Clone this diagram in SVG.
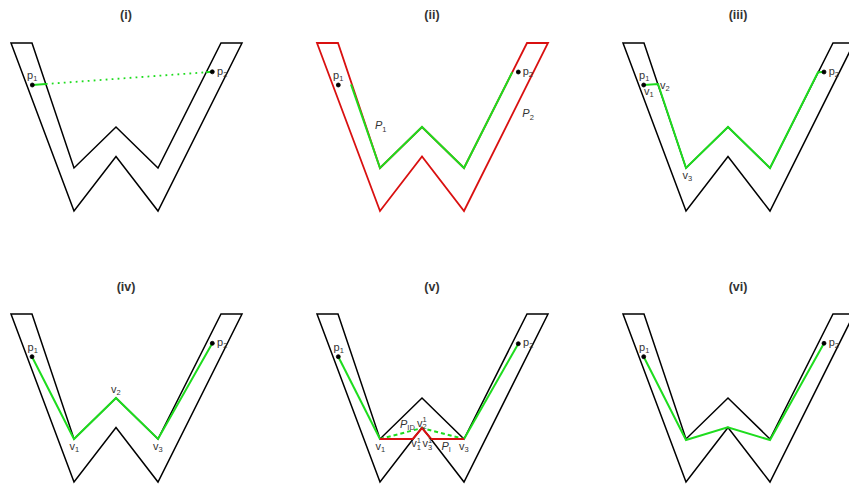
<svg xmlns="http://www.w3.org/2000/svg" width="849" height="486" viewBox="0 0 849 486">
<style>
.title{font-family:"Liberation Sans",Arial,sans-serif;font-size:12.5px;font-weight:bold;fill:#333;text-anchor:middle}
.lbl{font-family:"Liberation Sans",Arial,sans-serif;font-size:11px;fill:#333}
.sub{font-size:7.5px}
.it{font-style:italic}
.wall{fill:none;stroke:#000;stroke-width:1.5;stroke-linejoin:miter}
.wallred{fill:none;stroke:#d91010;stroke-width:1.8}
.g{fill:none;stroke:#1edc1e;stroke-width:2;stroke-linejoin:miter}
.gdot{fill:none;stroke:#1edc1e;stroke-width:1.8;stroke-dasharray:1.8,4.2}
.gdash{fill:none;stroke:#1edc1e;stroke-width:2;stroke-dasharray:4,3}
.r{fill:none;stroke:#d91010;stroke-width:2;stroke-linejoin:miter}
.pt{fill:#000;stroke:#000;stroke-width:0.8}
</style>
<defs>
<path id="w" d="M11,43 L74,211 L116,156.5 L158,211 L242,43 L221,43 L158,168 L116,127 L74,168 L32,43 Z"/>
</defs>
<rect width="849" height="486" fill="#fff"/>

<g id="panel-i">
<text class="title" x="126" y="19">(i)</text>
<use href="#w" class="wall"/>
<g id="connectors-i">
<path class="g" d="M32.3,85 L45.8,84"/>
<path class="gdot" d="M45.8,84 L206,72.3"/>
<path class="g" d="M206,72.3 L212.3,71.8"/>
</g>
<circle class="pt" cx="32.3" cy="85" r="2"/>
<circle class="pt" cx="212.3" cy="71.8" r="2"/>
<text class="lbl" x="27" y="79">p<tspan class="sub" dy="2">1</tspan></text>
<text class="lbl" x="217" y="75">p<tspan class="sub" dy="2">2</tspan></text>
</g>

<g id="panel-ii" transform="translate(306,0)">
<text class="title" x="126" y="19">(ii)</text>
<use href="#w" class="wallred"/>
<g id="connectors-ii">
<path class="g" d="M45,84.3 L74,168 L116,127 L158,168 L206.2,72.3"/>
</g>
<circle class="pt" cx="32.3" cy="85" r="2"/>
<circle class="pt" cx="212.3" cy="72" r="2"/>
<text class="lbl" x="27" y="79">p<tspan class="sub" dy="2">1</tspan></text>
<text class="lbl" x="216.7" y="75">p<tspan class="sub" dy="2">2</tspan></text>
<text class="lbl" x="69" y="129.3"><tspan class="it">P</tspan><tspan class="sub" dy="2.5">1</tspan></text>
<text class="lbl" x="216.3" y="117.3"><tspan class="it">P</tspan><tspan class="sub" dy="2.5">2</tspan></text>
</g>

<g id="panel-iii" transform="translate(612,0)">
<text class="title" x="126" y="19">(iii)</text>
<use href="#w" class="wall"/>
<g id="connectors-iii">
<path class="g" d="M31.7,85 L46,84 L74,168 L116,127 L158,168 L206,72.3 L212,72"/>
</g>
<circle class="pt" cx="31.7" cy="85" r="2"/>
<circle class="pt" cx="212" cy="72" r="2"/>
<text class="lbl" x="27" y="79">p<tspan class="sub" dy="2">1</tspan></text>
<text class="lbl" x="32" y="94.5">v<tspan class="sub" dy="2">1</tspan></text>
<text class="lbl" x="48" y="88.5">v<tspan class="sub" dy="2">2</tspan></text>
<text class="lbl" x="70.5" y="178.5">v<tspan class="sub" dy="2">3</tspan></text>
<text class="lbl" x="216.7" y="75">p<tspan class="sub" dy="2">2</tspan></text>
</g>

<g id="panel-iv" transform="translate(0,271)">
<text class="title" x="126" y="19.5">(iv)</text>
<use href="#w" class="wall"/>
<g id="connectors-iv">
<path class="g" d="M32,85.7 L74,168 L116,127 L158,168 L212.3,72.3"/>
</g>
<circle class="pt" cx="32" cy="85.7" r="2"/>
<circle class="pt" cx="212.3" cy="72.3" r="2"/>
<text class="lbl" x="27.5" y="80">p<tspan class="sub" dy="2">1</tspan></text>
<text class="lbl" x="111" y="121.5">v<tspan class="sub" dy="2">2</tspan></text>
<text class="lbl" x="69.5" y="179">v<tspan class="sub" dy="2">1</tspan></text>
<text class="lbl" x="153" y="179">v<tspan class="sub" dy="2">3</tspan></text>
<text class="lbl" x="217" y="75">p<tspan class="sub" dy="2">2</tspan></text>
</g>

<g id="panel-v" transform="translate(306,271)">
<text class="title" x="126" y="19.5">(v)</text>
<use href="#w" class="wall"/>
<g id="connectors-v">
<path class="g" d="M32.3,85.7 L74,168"/>
<path class="g" d="M158,168 L212.3,72.7"/>
<path class="gdash" d="M74,168 L116,157 L158,168"/>
<path class="r" d="M74,168 L106.8,168 L116,157 L125.2,168 L158,168"/>
</g>
<circle class="pt" cx="32.3" cy="85.7" r="2"/>
<circle class="pt" cx="212.3" cy="72.7" r="2"/>
<text class="lbl" x="27.5" y="80">p<tspan class="sub" dy="2">1</tspan></text>
<text class="lbl" x="217" y="75">p<tspan class="sub" dy="2">2</tspan></text>
<text class="lbl" x="94" y="157.3"><tspan class="it">P</tspan><tspan class="sub" dy="2">ID</tspan></text>
<text class="lbl" x="111" y="155.5">v</text>
<text class="lbl sub" x="116.5" y="150.5">1</text>
<text class="lbl sub" x="116.5" y="158">2</text>
<text class="lbl" x="105.3" y="176.3">v</text>
<text class="lbl sub" x="110.8" y="171.5">1</text>
<text class="lbl sub" x="110.8" y="179">1</text>
<text class="lbl" x="116.5" y="176.3">v</text>
<text class="lbl sub" x="122" y="171.5">1</text>
<text class="lbl sub" x="122" y="179">3</text>
<text class="lbl" x="69.5" y="179">v<tspan class="sub" dy="2">1</tspan></text>
<text class="lbl" x="135.5" y="179"><tspan class="it">P</tspan><tspan class="sub" dy="2">I</tspan></text>
<text class="lbl" x="153" y="179">v<tspan class="sub" dy="2">3</tspan></text>
</g>

<g id="panel-vi" transform="translate(612,271)">
<text class="title" x="126" y="19.5">(vi)</text>
<use href="#w" class="wall"/>
<g id="connectors-vi">
<path class="g" d="M31.7,85.7 L74,169 L115.7,156.3 L158,169 L212,72.3"/>
</g>
<circle class="pt" cx="31.7" cy="85.7" r="2"/>
<circle class="pt" cx="212" cy="72.3" r="2"/>
<text class="lbl" x="27" y="80">p<tspan class="sub" dy="2">1</tspan></text>
<text class="lbl" x="216.7" y="75">p<tspan class="sub" dy="2">2</tspan></text>
</g>
</svg>
